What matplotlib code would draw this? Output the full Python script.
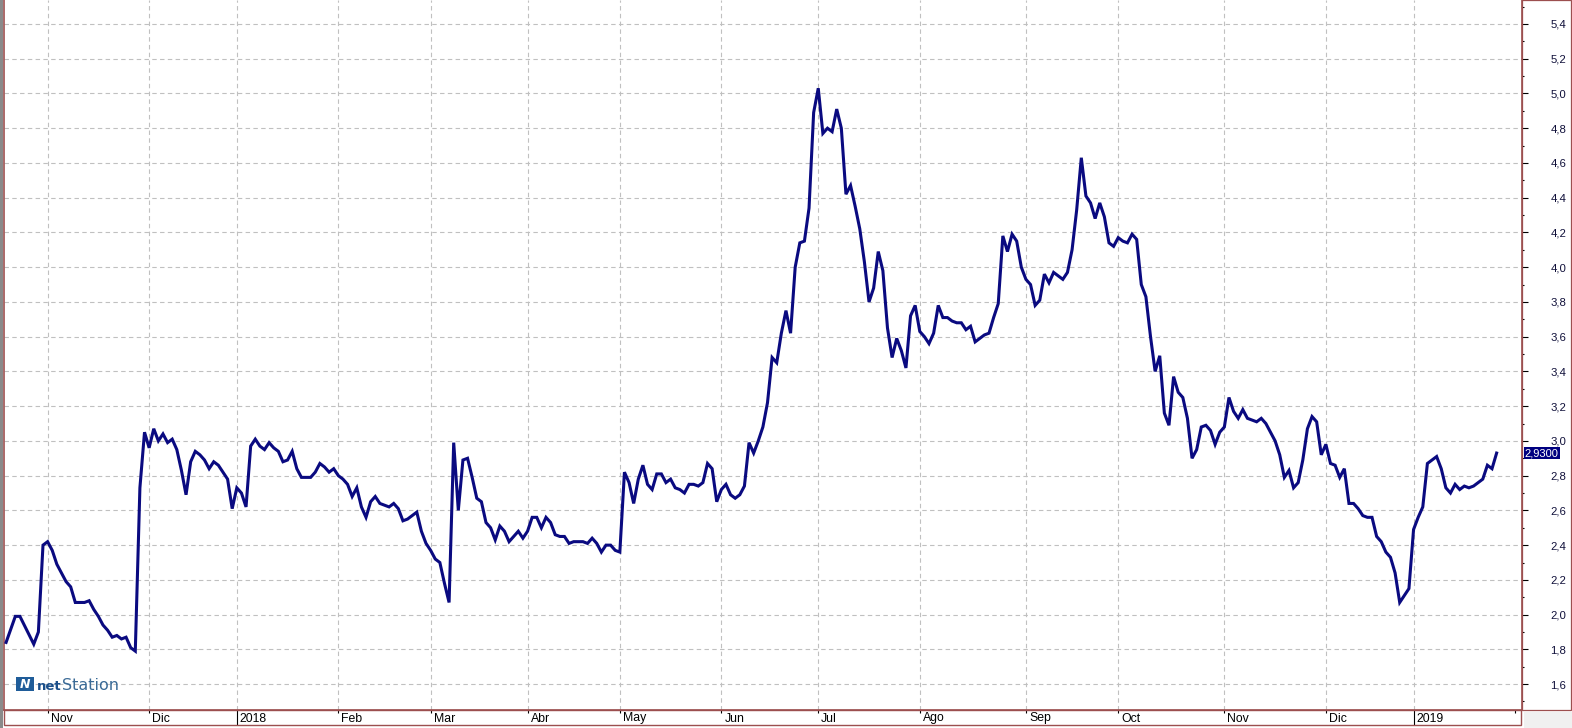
import numpy as np
import matplotlib
matplotlib.use("Agg")
import matplotlib.pyplot as plt
import matplotlib.transforms as mtransforms
from matplotlib.patches import Rectangle

# === Data: daily closes ===
dates = [
    "2017-10-19", "2017-10-23", "2017-10-24", "2017-10-27", "2017-10-30", "2017-10-31",
    "2017-11-01", "2017-11-02", "2017-11-03", "2017-11-06", "2017-11-07", "2017-11-08",
    "2017-11-09", "2017-11-10", "2017-11-13", "2017-11-14", "2017-11-15", "2017-11-16",
    "2017-11-17", "2017-11-20", "2017-11-21", "2017-11-22", "2017-11-23", "2017-11-24",
    "2017-11-27", "2017-11-28", "2017-11-29", "2017-11-30",
    "2017-12-01", "2017-12-04", "2017-12-05", "2017-12-06", "2017-12-07", "2017-12-08",
    "2017-12-11", "2017-12-12", "2017-12-13", "2017-12-14", "2017-12-15", "2017-12-18",
    "2017-12-19", "2017-12-20", "2017-12-21", "2017-12-22", "2017-12-27", "2017-12-28",
    "2017-12-29",
    "2018-01-02", "2018-01-03", "2018-01-04", "2018-01-05", "2018-01-08", "2018-01-09",
    "2018-01-10", "2018-01-11", "2018-01-12", "2018-01-15", "2018-01-16", "2018-01-17",
    "2018-01-18", "2018-01-19", "2018-01-22", "2018-01-23", "2018-01-24", "2018-01-25",
    "2018-01-26", "2018-01-29", "2018-01-30", "2018-01-31",
    "2018-02-01", "2018-02-02", "2018-02-05", "2018-02-06", "2018-02-07", "2018-02-08",
    "2018-02-09", "2018-02-12", "2018-02-13", "2018-02-14", "2018-02-15", "2018-02-16",
    "2018-02-19", "2018-02-20", "2018-02-21", "2018-02-22", "2018-02-23", "2018-02-26",
    "2018-02-27", "2018-02-28",
    "2018-03-01", "2018-03-02", "2018-03-05", "2018-03-06", "2018-03-07", "2018-03-08",
    "2018-03-09", "2018-03-12", "2018-03-13", "2018-03-14", "2018-03-15", "2018-03-16",
    "2018-03-19", "2018-03-20", "2018-03-21", "2018-03-22", "2018-03-23", "2018-03-26",
    "2018-03-27", "2018-03-28", "2018-03-29",
    "2018-04-03", "2018-04-04", "2018-04-05", "2018-04-06", "2018-04-09", "2018-04-10",
    "2018-04-11", "2018-04-12", "2018-04-13", "2018-04-16", "2018-04-17", "2018-04-18",
    "2018-04-19", "2018-04-20", "2018-04-23", "2018-04-24", "2018-04-25", "2018-04-26",
    "2018-04-27", "2018-04-30",
    "2018-05-02", "2018-05-03", "2018-05-04", "2018-05-07", "2018-05-08", "2018-05-09",
    "2018-05-10", "2018-05-11", "2018-05-14", "2018-05-15", "2018-05-16", "2018-05-17",
    "2018-05-18", "2018-05-21", "2018-05-22", "2018-05-23", "2018-05-24", "2018-05-25",
    "2018-05-28", "2018-05-29", "2018-05-30", "2018-05-31",
    "2018-06-01", "2018-06-04", "2018-06-05", "2018-06-06", "2018-06-07", "2018-06-08",
    "2018-06-11", "2018-06-12", "2018-06-13", "2018-06-14", "2018-06-15", "2018-06-18",
    "2018-06-19", "2018-06-20", "2018-06-21", "2018-06-22", "2018-06-25", "2018-06-26",
    "2018-06-27", "2018-06-28", "2018-06-29",
    "2018-07-02", "2018-07-03", "2018-07-04", "2018-07-05", "2018-07-06", "2018-07-09",
    "2018-07-10", "2018-07-11", "2018-07-12", "2018-07-13", "2018-07-16", "2018-07-17",
    "2018-07-18", "2018-07-19", "2018-07-20", "2018-07-23", "2018-07-24", "2018-07-25",
    "2018-07-26", "2018-07-27", "2018-07-30", "2018-07-31",
    "2018-08-01", "2018-08-02", "2018-08-03", "2018-08-06", "2018-08-07", "2018-08-08",
    "2018-08-09", "2018-08-10", "2018-08-13", "2018-08-14", "2018-08-15", "2018-08-16",
    "2018-08-17", "2018-08-20", "2018-08-21", "2018-08-22", "2018-08-23", "2018-08-24",
    "2018-08-27", "2018-08-28", "2018-08-29", "2018-08-30", "2018-08-31",
    "2018-09-03", "2018-09-04", "2018-09-05", "2018-09-06", "2018-09-07", "2018-09-10",
    "2018-09-11", "2018-09-12", "2018-09-13", "2018-09-14", "2018-09-17", "2018-09-18",
    "2018-09-19", "2018-09-20", "2018-09-21", "2018-09-24", "2018-09-25", "2018-09-26",
    "2018-09-27", "2018-09-28",
    "2018-10-01", "2018-10-02", "2018-10-03", "2018-10-04", "2018-10-05", "2018-10-08",
    "2018-10-09", "2018-10-10", "2018-10-11", "2018-10-12", "2018-10-15", "2018-10-16",
    "2018-10-17", "2018-10-18", "2018-10-19", "2018-10-22", "2018-10-23", "2018-10-24",
    "2018-10-25", "2018-10-26", "2018-10-29", "2018-10-30", "2018-10-31",
    "2018-11-01", "2018-11-02", "2018-11-05", "2018-11-06", "2018-11-07", "2018-11-08",
    "2018-11-09", "2018-11-12", "2018-11-13", "2018-11-14", "2018-11-15", "2018-11-16",
    "2018-11-19", "2018-11-20", "2018-11-21", "2018-11-22", "2018-11-23", "2018-11-26",
    "2018-11-27", "2018-11-28", "2018-11-29", "2018-11-30",
    "2018-12-03", "2018-12-04", "2018-12-05", "2018-12-06", "2018-12-07", "2018-12-10",
    "2018-12-11", "2018-12-12", "2018-12-13", "2018-12-14", "2018-12-17", "2018-12-18",
    "2018-12-19", "2018-12-20", "2018-12-21", "2018-12-24", "2018-12-27", "2018-12-28",
    "2018-12-31",
    "2019-01-02", "2019-01-03", "2019-01-04", "2019-01-07", "2019-01-08", "2019-01-09",
    "2019-01-10", "2019-01-11", "2019-01-14", "2019-01-15", "2019-01-16", "2019-01-17",
    "2019-01-18", "2019-01-21", "2019-01-22", "2019-01-23", "2019-01-24", "2019-01-25",
    "2019-01-28",
]
values = [
    1.84, 1.99, 1.99, 1.83, 1.90, 2.40,
    2.42, 2.37, 2.29, 2.24, 2.19, 2.16,
    2.07, 2.07, 2.07, 2.08, 2.03, 1.99,
    1.94, 1.91, 1.87, 1.88, 1.86, 1.87,
    1.81, 1.79, 2.73, 3.05,
    2.96, 3.07, 3.00, 3.04, 2.99, 3.01,
    2.95, 2.83, 2.69, 2.88, 2.94, 2.92,
    2.89, 2.84, 2.88, 2.86, 2.82, 2.78,
    2.61,
    2.73, 2.70, 2.62, 2.97, 3.01, 2.97,
    2.95, 2.99, 2.96, 2.94, 2.88, 2.89,
    2.94, 2.84, 2.79, 2.79, 2.79, 2.82,
    2.87, 2.85, 2.82, 2.84,
    2.80, 2.78, 2.75, 2.68, 2.73, 2.62,
    2.56, 2.65, 2.68, 2.64, 2.63, 2.62,
    2.64, 2.61, 2.54, 2.55, 2.57, 2.59,
    2.48, 2.41,
    2.37, 2.32, 2.30, 2.18, 2.07, 2.99,
    2.60, 2.89, 2.90, 2.79, 2.67, 2.65,
    2.53, 2.50, 2.43, 2.51, 2.48, 2.42,
    2.45, 2.48, 2.44,
    2.48, 2.56, 2.56, 2.50, 2.56, 2.53,
    2.46, 2.45, 2.45, 2.41, 2.42, 2.42,
    2.42, 2.41, 2.44, 2.41, 2.36, 2.40,
    2.40, 2.37,
    2.36, 2.82, 2.76, 2.64, 2.78, 2.86,
    2.75, 2.72, 2.81, 2.81, 2.76, 2.78,
    2.73, 2.72, 2.70, 2.75, 2.75, 2.74,
    2.76, 2.87, 2.84, 2.65,
    2.72, 2.75, 2.69, 2.67, 2.69, 2.74,
    2.99, 2.93, 3.00, 3.08, 3.22, 3.48,
    3.45, 3.62, 3.75, 3.62, 4.00, 4.14,
    4.15, 4.34, 4.89,
    5.03, 4.77, 4.80, 4.78, 4.91, 4.80,
    4.42, 4.47, 4.35, 4.22, 4.03, 3.80,
    3.88, 4.09, 3.98, 3.65, 3.48, 3.59,
    3.52, 3.42, 3.72, 3.78,
    3.63, 3.60, 3.56, 3.62, 3.78, 3.71,
    3.71, 3.69, 3.68, 3.68, 3.64, 3.66,
    3.57, 3.59, 3.61, 3.62, 3.71, 3.79,
    4.18, 4.09, 4.19, 4.15, 4.00,
    3.93, 3.90, 3.78, 3.81, 3.96, 3.91,
    3.97, 3.95, 3.93, 3.97, 4.10, 4.33,
    4.63, 4.41, 4.37, 4.28, 4.37, 4.29,
    4.14, 4.12,
    4.17, 4.15, 4.14, 4.19, 4.16, 3.90,
    3.83, 3.60, 3.40, 3.49, 3.16, 3.09,
    3.37, 3.28, 3.25, 3.13, 2.90, 2.95,
    3.08, 3.09, 3.06, 2.98, 3.05,
    3.08, 3.25, 3.17, 3.13, 3.18, 3.13,
    3.12, 3.11, 3.13, 3.10, 3.05, 3.00,
    2.92, 2.79, 2.83, 2.73, 2.76, 2.89,
    3.07, 3.14, 3.11, 2.92,
    2.98, 2.87, 2.86, 2.79, 2.84, 2.64,
    2.64, 2.61, 2.57, 2.56, 2.56, 2.45,
    2.42, 2.36, 2.33, 2.24, 2.07, 2.11,
    2.15,
    2.49, 2.56, 2.62, 2.87, 2.89, 2.91,
    2.84, 2.73, 2.70, 2.75, 2.72, 2.74,
    2.73, 2.74, 2.76, 2.78, 2.86, 2.84,
    2.93,
]

# market holidays: no session, so no room on the x axis
holidays = ["2017-12-25", "2017-12-26", "2018-01-01", "2018-03-30", "2018-04-02",
            "2018-05-01", "2018-12-25", "2018-12-26", "2019-01-01"]

month_starts = ["2017-11-01", "2017-12-01", "2018-01-01", "2018-02-01", "2018-03-01",
                "2018-04-01", "2018-05-01", "2018-06-01", "2018-07-01", "2018-08-01",
                "2018-09-01", "2018-10-01", "2018-11-01", "2018-12-01", "2019-01-01",
                "2019-02-01"]
month_labels = ["Nov", "Dic", "2018", "Feb", "Mar", "Abr", "May", "Jun", "Jul", "Ago",
                "Sep", "Oct", "Nov", "Dic", "2019", "Feb"]

# === Style ===
W, H = 1572, 728
LINE = "#0a0a80"
FRAME = "#9c4f4f"
GRID = "#c0c0c0"
plt.rcParams["font.family"] = ["Liberation Sans", "DejaVu Sans"]

# session index on a trading-day axis
hol = np.array(holidays, dtype="datetime64[D]")
d = np.array(dates, dtype="datetime64[D]")
x = np.busday_count(d[0], d, holidays=hol)
first_sessions = np.busday_offset(np.array(month_starts, dtype="datetime64[D]"), 0,
                                  roll="forward", holidays=hol)
mx = np.busday_count(d[0], first_sessions, holidays=hol)

fig = plt.figure(figsize=(W / 100, H / 100), dpi=100, facecolor="white")
ax = fig.add_axes([4 / W, 18 / H, 1518 / W, 710 / H])

ax.plot(x, values, color=LINE, lw=2.2, solid_joinstyle="miter", zorder=3)

ax.set_xlim(-0.45, 328.5)
ax.set_ylim(1.451, 5.538)

# --- y axis on the right, comma decimals ---
yt = np.round(np.arange(1.6, 5.41, 0.2), 1)
ax.yaxis.tick_right()
ax.set_yticks(yt)
ax.set_yticks(np.round(np.arange(1.5, 5.51, 0.2), 1), minor=True)
ax.set_yticklabels([f"{v:.1f}".replace(".", ",") for v in yt])
ax.tick_params(axis="y", which="major", direction="out", length=4.3, width=0.8,
               color="black", pad=27.5, labelsize=8.2, labelcolor="#10103a")
ax.tick_params(axis="y", which="minor", direction="out", length=1.6, width=0.8,
               color="black")
for lab in ax.get_yticklabels():
    lab.set_horizontalalignment("right")

# --- x axis: month starts, labels drawn inside the bottom strip ---
inside = mx < ax.get_xlim()[1] - 3
ax.set_xticks(mx[inside])
ax.set_xticklabels([])
ax.set_xticks(mx[~inside], minor=True)
ax.tick_params(axis="x", which="both", direction="out", length=2.4, width=0.8,
               color="black")
for tick, lab in zip(ax.xaxis.get_major_ticks(), np.array(month_labels)[inside]):
    if lab.isdigit():
        tick.tick1line.set_markersize(11)

lab_tr = mtransforms.offset_copy(ax.get_xaxis_transform(), fig=fig, x=3, y=-8.5,
                                 units="dots")
for pos, lab in zip(mx[inside], np.array(month_labels)[inside]):
    ax.text(pos, 0, lab, transform=lab_tr, ha="left", va="center", fontsize=8.8,
            color="black", clip_on=False)

ax.grid(True, which="major", color=GRID, linestyle=(0, (4, 3)), lw=0.8)
ax.grid(False, which="minor")
ax.set_axisbelow(True)

for side in ["left", "right", "bottom"]:
    ax.spines[side].set_color(FRAME)
    ax.spines[side].set_linewidth(1.2)
ax.spines["top"].set_visible(False)

# --- frames around the date strip and the price scale ---
fig.add_artist(Rectangle((4 / W, 3 / H), 1517 / W, 15 / H, transform=fig.transFigure,
                         fc="none", ec=FRAME, lw=1.0))
fig.add_artist(Rectangle((1522 / W, 18 / H), 48.5 / W, 710 / H, transform=fig.transFigure,
                         fc="none", ec=FRAME, lw=0.9))
fig.add_artist(Rectangle((1523.5 / W, 0), 48.5 / W, 16.5 / H, transform=fig.transFigure,
                         fc="#f0f0f0", ec="none"))
fig.add_artist(Rectangle((0, 0), 2.6 / W, 1, transform=fig.transFigure,
                         fc="#8a8a8a", ec="none"))

# --- last value marker on the scale ---
last = values[-1]
ax.text(1.0018, last, f"{last:.4f}".replace(".", ","),
        transform=ax.get_yaxis_transform(), ha="left", va="center", fontsize=8,
        color="white", clip_on=False, zorder=5,
        bbox=dict(boxstyle="square,pad=0.1", fc="#000080", ec="none"))

# --- netStation logo ---
fig.add_artist(Rectangle((16 / W, 37 / H), 18 / W, 14 / H, transform=fig.transFigure,
                         fc="#1f5c99", ec="none"))
fig.text(25 / W, 44 / H, "N", color="white", fontsize=9, fontweight="bold",
         style="italic", ha="center", va="center", family="DejaVu Sans")
fig.text(37 / W, 38 / H, "net", color="#1b4f8a", fontsize=9.5,
         fontweight="bold", ha="left", va="baseline", family="DejaVu Sans")
fig.text(61.5 / W, 38 / H, "Station", color="#3a6a96", fontsize=11.5,
         ha="left", va="baseline", family="DejaVu Sans")

fig.savefig("out.png", dpi=100, facecolor="white")
